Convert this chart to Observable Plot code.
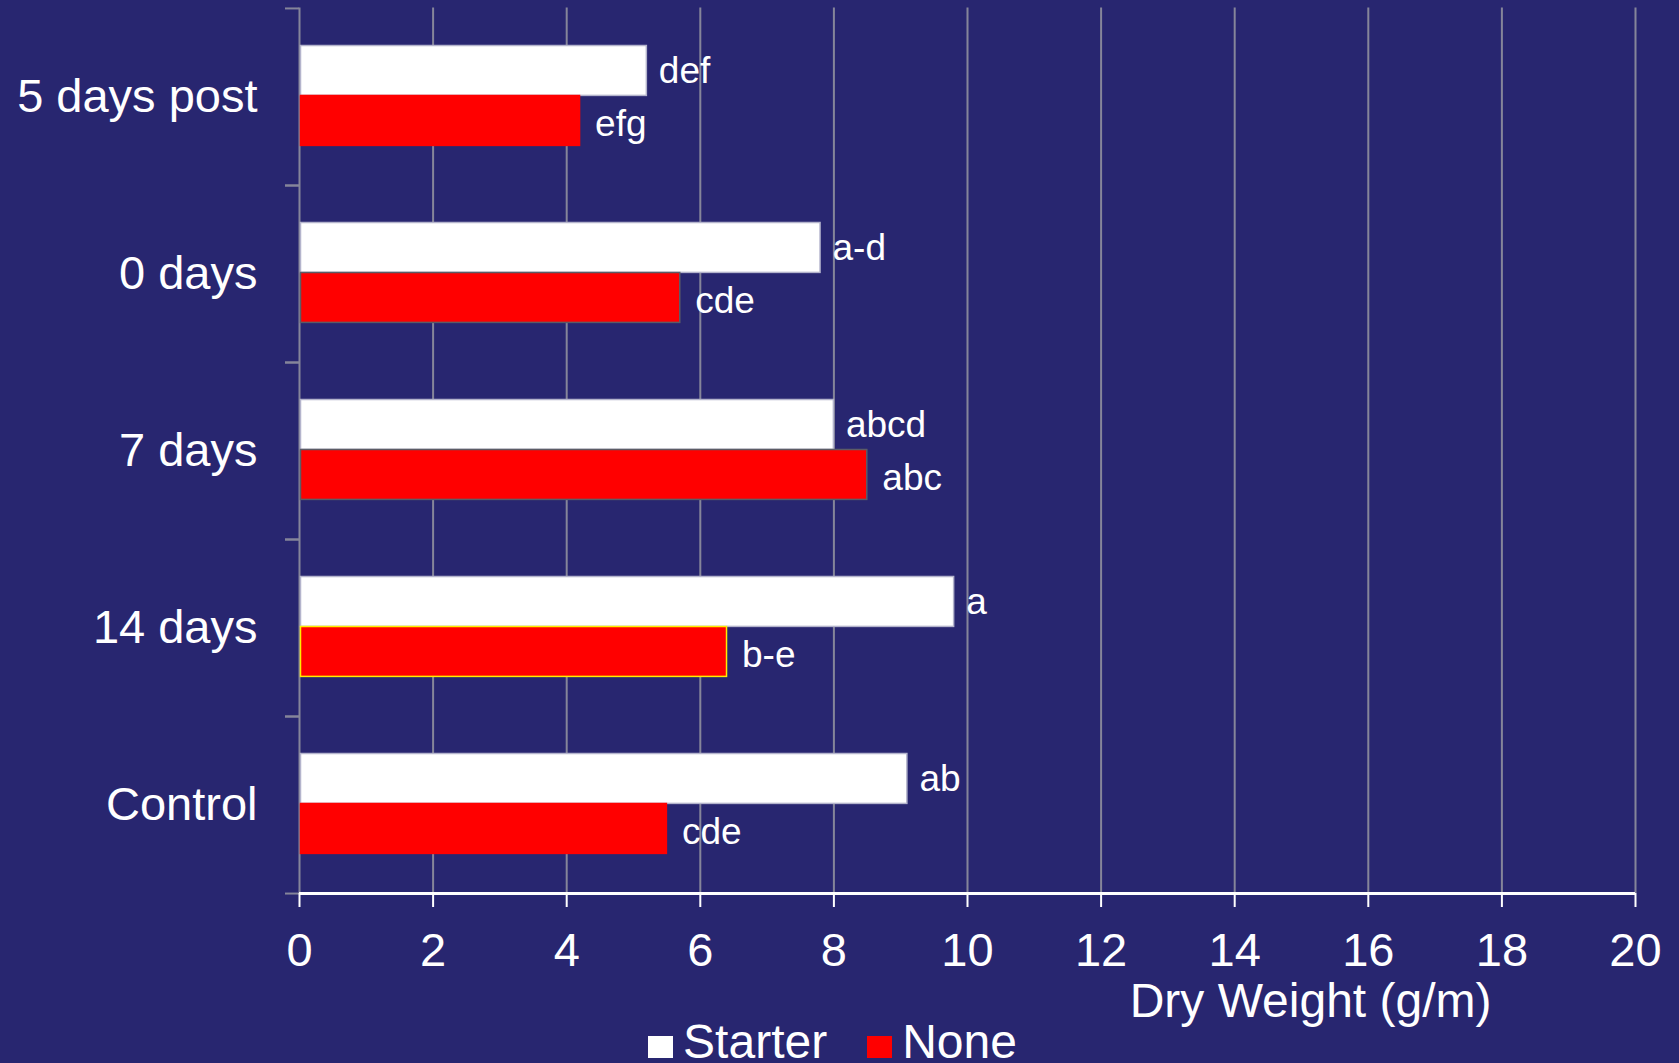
<!DOCTYPE html>
<html>
<head>
<meta charset="utf-8">
<script src="https://cdn.jsdelivr.net/npm/d3@7"></script>
<script src="https://cdn.jsdelivr.net/npm/@observablehq/plot@0.6"></script>
<style>
  html, body { margin: 0; padding: 0; background: #282670; }
  body { width: 1679px; height: 1063px; overflow: hidden; font-family: "Liberation Sans", Arial, sans-serif; color: white; }
  #legend { display: flex; justify-content: center; align-items: baseline; margin-top: -2px; padding-right: 14px; font-size: 48px; line-height: 1; }
  #legend .item { display: flex; align-items: baseline; }
  #legend .sw { display: inline-block; width: 25px; height: 22px; margin-right: 10px; }
  #legend .item + .item { margin-left: 40px; }
</style>
</head>
<body>
<div id="chart"></div>
<div id="legend"></div>
<script>
// Treatment timing (rows, top to bottom)
const categories = ["5 days post", "0 days", "7 days", "14 days", "Control"];
// Series
const seriesNames = ["Starter", "None"];
// Dry weight (g/m) per treatment
const starterValues = [5.2, 7.8, 8.0, 9.8, 9.1];
const noneValues = [4.2, 5.7, 8.5, 6.4, 5.5];
// Mean-separation letters
const starterLetters = ["def", "a-d", "abcd", "a", "ab"];
const noneLetters = ["efg", "cde", "abc", "b-e", "cde"];
// X axis ticks
const xTicks = [0, 2, 4, 6, 8, 10, 12, 14, 16, 18, 20];
const xTitle = "Dry Weight (g/m)";

const starterRows = categories.map((c, i) => ({category: c, series: seriesNames[0], value: starterValues[i], letters: starterLetters[i]}));
const noneRows = categories.map((c, i) => ({category: c, series: seriesNames[1], value: noneValues[i], letters: noneLetters[i]}));

const bg = "#282670";
const gridColor = "#85859a";
const W = 1679, H = 1020;
const mTop = 7.5, mBottom = 127, mLeft = 299, mRight = 44;
const step = (H - mTop - mBottom) / categories.length;
const barH = 50;
const topGap = 37.5;

// edge colour of the "None" bars
const noneEdge = {"0 days": "#5c5c66", "7 days": "#5c5c66", "14 days": "#ffee00"};

const chart = Plot.plot({
  width: W,
  height: H,
  marginTop: mTop,
  marginBottom: mBottom,
  marginLeft: mLeft,
  marginRight: mRight,
  style: {background: bg, color: "white", fontFamily: "'Liberation Sans', Arial, sans-serif", overflow: "visible"},
  x: {domain: [0, 20]},
  y: {domain: categories, padding: 0},
  marks: [
    Plot.gridX(xTicks, {stroke: gridColor, strokeOpacity: 1, strokeWidth: 2}),
    // category labels
    Plot.axisY({tickSize: 0, tickPadding: 42, fontSize: 47, fill: "white", label: null}),
    // category boundary ticks
    Plot.axisY({tickSize: 14, fill: "none", stroke: gridColor, strokeWidth: 2, dy: -step / 2, label: null}),
    Plot.axisY({tickSize: 14, fill: "none", stroke: gridColor, strokeWidth: 2, dy: step / 2, label: null}),
    // bars
    Plot.barX(starterRows, {
      x: "value", y: "category", fill: "white", stroke: "#b4b4cc", strokeWidth: 1.5,
      insetLeft: 1.5, insetTop: topGap, insetBottom: step - topGap - barH
    }),
    Plot.barX(noneRows, {
      x: "value", y: "category", fill: "#ff0000",
      stroke: d => noneEdge[d.category] ?? "#ff0000", strokeWidth: 1.5,
      insetLeft: 1.5, insetTop: topGap + barH, insetBottom: step - topGap - 2 * barH
    }),
    // x axis line and ticks
    Plot.ruleY([categories[categories.length - 1]], {dy: step / 2, stroke: "white", strokeWidth: 3}),
    Plot.axisX({ticks: xTicks, tickSize: 14, tickPadding: 25, fontSize: 47, stroke: "white", strokeWidth: 2, fill: "white", label: null}),
    // letters
    Plot.text(starterRows, {
      x: "value", y: "category", text: "letters", textAnchor: "start",
      dx: 12, dy: topGap + barH / 2 - step / 2, fontSize: 37, fill: "white"
    }),
    Plot.text(noneRows, {
      x: "value", y: "category", text: "letters", textAnchor: "start",
      dx: 15, dy: topGap + 1.5 * barH - step / 2 + 3, fontSize: 37, fill: "white"
    }),
    // axis title
    Plot.text([xTitle], {
      text: d => d, frameAnchor: "bottom-right", textAnchor: "end", lineAnchor: "middle",
      dx: -144, dy: 108, fontSize: 48, fill: "white"
    })
  ]
});
document.getElementById("chart").appendChild(chart);

// legend below the chart
const legendColors = {"Starter": "white", "None": "#ff0000"};
const legend = d3.select("#legend");
seriesNames.forEach(name => {
  const item = legend.append("div").attr("class", "item");
  item.append("span").attr("class", "sw").style("background", legendColors[name]);
  item.append("span").text(name);
});
</script>
</body>
</html>
